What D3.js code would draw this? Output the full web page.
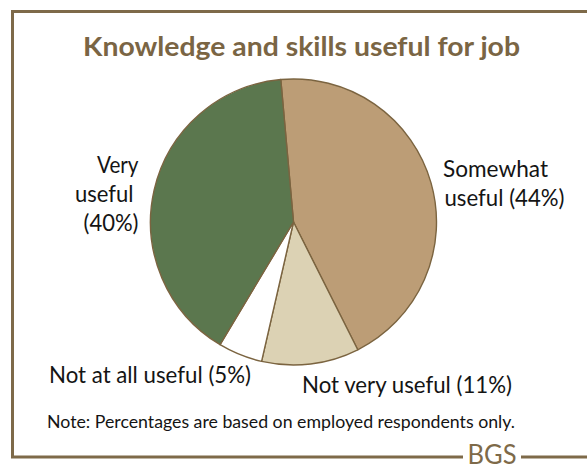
<!DOCTYPE html>
<html>
<head>
<meta charset="utf-8">
<script src="https://cdn.jsdelivr.net/npm/d3@7"></script>
<style>
  html, body { margin: 0; padding: 0; background: #fff; }
  svg { display: block; }
</style>
</head>
<body>
<svg id="chart" width="587" height="466"></svg>
<script>
// Survey responses: how useful knowledge and skills are for the respondent's job
const categories = ["Somewhat useful", "Not very useful", "Not at all useful", "Very useful"];
const percents = [44, 11, 5, 40];
const sliceColors = ["#bc9d76", "#dcd2b4", "#ffffff", "#5b774e"];
const title = "Knowledge and skills useful for job";
const note = "Note: Percentages are based on employed respondents only.";
const brand = "BGS";

const svg = d3.select("#chart");
const brown = "#7e6a49";
const labelFont = "Lato, 'Open Sans', sans-serif";

// Frame: left, top and bottom rules, with the brand mark set into the bottom rule
const frame = svg.append("g").attr("stroke", brown).attr("stroke-width", 3).attr("fill", "none");
frame.append("path").attr("d", "M 600 11.5 H 12.5 V 457 H 463");
frame.append("path").attr("d", "M 521 457 H 600");
svg.append("text")
  .attr("x", 492).attr("y", 464)
  .attr("text-anchor", "middle")
  .attr("font-family", labelFont)
  .attr("font-size", 26)
  .attr("textLength", 49).attr("lengthAdjust", "spacingAndGlyphs")
  .attr("fill", brown)
  .text(brand);

// Title
svg.append("text")
  .attr("x", 301.5).attr("y", 56)
  .attr("text-anchor", "middle")
  .attr("font-family", labelFont)
  .attr("font-weight", 700)
  .attr("font-size", 26)
  .attr("textLength", 437).attr("lengthAdjust", "spacingAndGlyphs")
  .attr("fill", "#7a6544")
  .text(title);

// Pie
const cx = 293.5, cy = 222, radius = 143;
const startDeg = -5.1;
const pie = d3.pie().sort(null)
  .startAngle(startDeg * Math.PI / 180)
  .endAngle((startDeg + 360) * Math.PI / 180)
  .value(d => d);
const arc = d3.arc().innerRadius(0).outerRadius(radius);
const color = d3.scaleOrdinal().domain(categories).range(sliceColors);

svg.append("g")
  .attr("transform", `translate(${cx},${cy})`)
  .selectAll("path")
  .data(pie(percents))
  .join("path")
  .attr("d", arc)
  .attr("fill", (d, i) => color(categories[i]))
  .attr("stroke", "#7b6440")
  .attr("stroke-width", 1.4)
  .attr("stroke-linejoin", "round");

// Slice labels; each line has a set width w so the wording fills its slot
const pct = i => `(${percents[i]}%)`;
const labels = [
  { lines: [["Somewhat", 0, 105], [`useful ${pct(0)}`, 1.5, 120]], x: 443, y: 177, anchor: "start" },
  { lines: [[`Not very useful ${pct(1)}`, 0, 210]], x: 302, y: 393, anchor: "start" },
  { lines: [[`Not at all useful ${pct(2)}`, 0, 202]], x: 49, y: 383, anchor: "start" },
  { lines: [["Very", 0, 41.5], ["useful", -5, 58.5], [pct(3), 0, 55]], x: 138.5, y: 173, anchor: "end" }
];
const lineGap = 29;
labels.forEach(l => {
  l.lines.forEach(([s, dx, w], j) => {
    svg.append("text")
      .attr("font-family", labelFont)
      .attr("font-size", 22.5)
      .attr("fill", "#141414")
      .attr("text-anchor", l.anchor)
      .attr("x", l.x + dx).attr("y", l.y + j * lineGap)
      .attr("textLength", w).attr("lengthAdjust", "spacingAndGlyphs")
      .text(s);
  });
});

// Footnote
svg.append("text")
  .attr("x", 47).attr("y", 428)
  .attr("font-family", labelFont)
  .attr("font-size", 17.5)
  .attr("fill", "#141414")
  .attr("textLength", 468).attr("lengthAdjust", "spacingAndGlyphs")
  .text(note);
</script>
</body>
</html>
